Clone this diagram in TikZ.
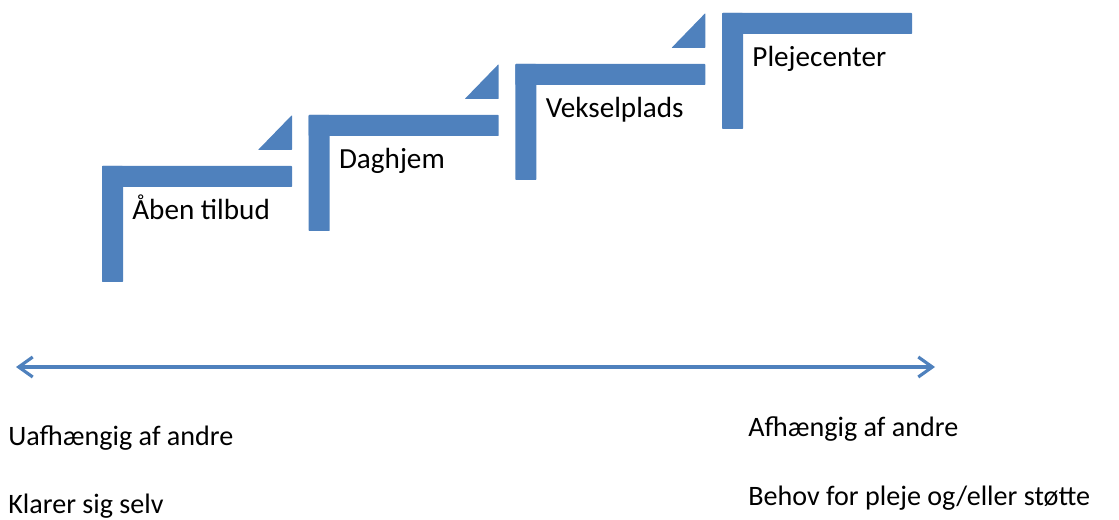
\documentclass[tikz,border=0pt]{standalone}
\usepackage{fontspec}
\setmainfont{Carlito}
\usepackage{tikz}
\usetikzlibrary{arrows.meta}
\definecolor{stairblue}{RGB}{79,129,189}

\begin{document}
\begin{tikzpicture}[x=0.02cm,y=-0.02cm,
    stair/.style={fill=stairblue,rounded corners=0.4pt},
    label/.style={anchor=base west,inner sep=0pt,font=\fontsize{16.6}{19}\selectfont},
    side/.style={anchor=base west,inner sep=0pt,font=\fontsize{16}{19}\selectfont}]
 	\useasboundingbox (0,0) rectangle (1119,520);
 	% the four steps
 	\foreach \i/\lab/\nm in {0/{Åben tilbud}/aaben,1/Daghjem/dag,2/Vekselplads/veksel,3/Plejecenter/pleje}{
 		\pgfmathsetmacro{\sx}{102+206.7*\i}
 		\pgfmathsetmacro{\sy}{166-51*\i}
 		\fill[stair] (\sx,\sy) rectangle ++(190,21);
 		\fill[stair] (\sx,\sy) rectangle ++(21,116);
 		\ifnum\i<3
 			\fill[stair] (\sx+156,\sy-16) -- (\sx+190,\sy-16) -- (\sx+190,\sy-51) -- cycle;
 		\fi
 		\node[label] (\nm) at (\sx+30,\sy+54) {\lab};
 	}
 	% scale of dependency
 	\coordinate (left end) at (16,367);
 	\coordinate (right end) at (935,367);
 	\draw[stairblue,line width=1.8pt,{Straight Barb[length=0.28cm,width=0.4cm]}-{Straight Barb[length=0.28cm,width=0.4cm]}] (left end) -- (right end);
 	\node[side] (uaf) at (8,445) {Uafhængig af andre};
 	\node[side] (klarer) at (8,513) {Klarer sig selv};
 	\node[side] (af) at (748,436) {Afhængig af andre};
 	\node[side] (behov) at (748,505) {Behov for pleje og/eller støtte};
\end{tikzpicture}
\end{document}
